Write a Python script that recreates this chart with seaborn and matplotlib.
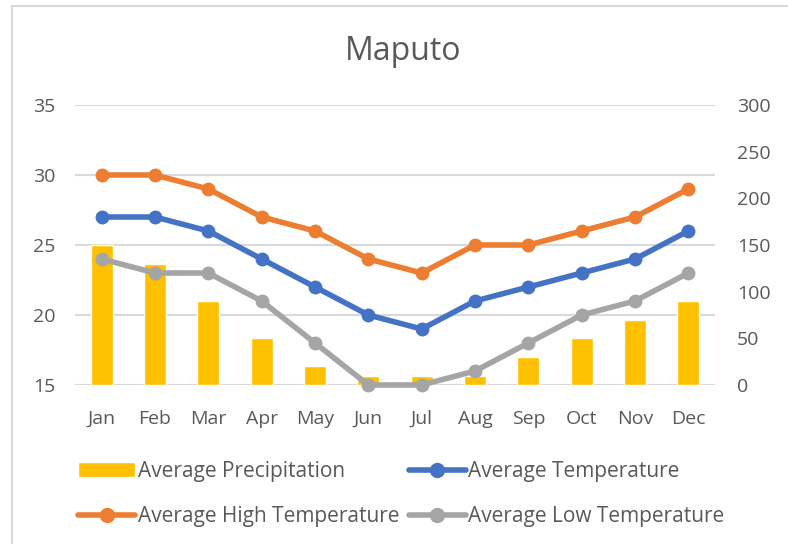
import numpy as np
import pandas as pd
import seaborn as sns
import matplotlib.pyplot as plt
from matplotlib.lines import Line2D
from matplotlib.patches import Patch
from matplotlib.ticker import FixedLocator

# chart values
months = ["Jan", "Feb", "Mar", "Apr", "May", "Jun",
          "Jul", "Aug", "Sep", "Oct", "Nov", "Dec"]
precipitation = [150, 130, 90, 50, 20, 10, 10, 10, 30, 50, 70, 90]
avg_temp = [27, 27, 26, 24, 22, 20, 19, 21, 22, 23, 24, 26]
high_temp = [30, 30, 29, 27, 26, 24, 23, 25, 25, 26, 27, 29]
low_temp = [24, 23, 23, 21, 18, 15, 15, 16, 18, 20, 21, 23]

series_names = ["Average Temperature", "Average High Temperature", "Average Low Temperature"]
series_colors = ["#4472C4", "#ED7D31", "#A5A5A5"]
bar_color = "#FFC000"
text_color = "#595959"
grid_color = "#D9D9D9"

sns.set_style("white")
plt.rcParams["font.family"] = ["Open Sans", "DejaVu Sans"]

bars_df = pd.DataFrame({"month": months, "precip": precipitation})
lines_df = pd.DataFrame({
    "pos": np.tile(np.arange(len(months)), 3),
    "temp": avg_temp + high_temp + low_temp,
    "series": np.repeat(series_names, len(months)),
})

fig = plt.figure(figsize=(7.88, 5.44), dpi=100)
ax = fig.add_axes([75 / 788, 1 - 385 / 544, 640 / 788, 280 / 544])

# precipitation bars on the bottom axes (right-hand scale)
sns.barplot(data=bars_df, x="month", y="precip", color=bar_color,
            width=0.41, saturation=1, ax=ax)
ax.set_ylim(0, 300)
ax.set_xlim(-0.5, len(months) - 0.5)
ax.set_xlabel("")
ax.set_ylabel("")

# temperature lines on a twin axes drawn on top (left-hand scale)
ax2 = ax.twinx()
sns.lineplot(data=lines_df, x="pos", y="temp", hue="series",
             palette=series_colors, hue_order=series_names,
             marker="o", markersize=10, markeredgewidth=0,
             linewidth=4, legend=False, ax=ax2, clip_on=False)
ax2.set_ylim(15, 35)
ax2.set_yticks(np.arange(15, 36, 5))
ax2.yaxis.tick_left()
ax2.set_xlim(-0.5, len(months) - 0.5)
ax2.set_xlabel("")
ax2.set_ylabel("")

# right-hand precipitation ticks, gridlines follow the temperature steps
ax.yaxis.tick_right()
ax.set_yticks(np.arange(0, 301, 50))
ax.yaxis.remove_overlapping_locs = False
ax.yaxis.set_minor_locator(FixedLocator(np.linspace(0, 300, 5)))
ax.grid(which="minor", axis="y", color=grid_color, linewidth=1.5)
ax.grid(which="major", axis="y", visible=False)
ax.set_axisbelow(True)

for a in (ax, ax2):
    for s in a.spines.values():
        s.set_visible(False)
    a.tick_params(which="both", length=0, colors=text_color, labelsize=14)
ax.tick_params(axis="y", pad=16)
ax2.tick_params(axis="y", pad=14)
ax.tick_params(axis="x", pad=18)
ax.set_xticks(range(len(months)))
ax.set_xticklabels(months)

fig.suptitle("Maputo", x=403 / 788, y=1 - 52 / 544, va="center",
             fontsize=23, color=text_color)

handles = [
    Patch(facecolor=bar_color, label="Average Precipitation"),
    Line2D([], [], color=series_colors[1], lw=4, marker="o", ms=10, label=series_names[1]),
    Line2D([], [], color=series_colors[0], lw=4, marker="o", ms=10, label=series_names[0]),
    Line2D([], [], color=series_colors[2], lw=4, marker="o", ms=10, label=series_names[2]),
]
fig.legend(handles=handles, ncol=2, loc="center left",
           bbox_to_anchor=(78 / 788, 1 - 494 / 544), frameon=False,
           fontsize=15, labelcolor=text_color, handlelength=2.75,
           handletextpad=0.12, columnspacing=0.45, labelspacing=1.15,
           borderaxespad=0, borderpad=0)

# light outer frame of the chart area
fig.add_artist(Line2D([12 / 788, 12 / 788], [0, 1 - 6 / 544], color=grid_color, lw=1.5))
fig.add_artist(Line2D([12 / 788, 1], [1 - 6 / 544, 1 - 6 / 544], color=grid_color, lw=1.5))

fig.savefig("out.png", dpi=100)
